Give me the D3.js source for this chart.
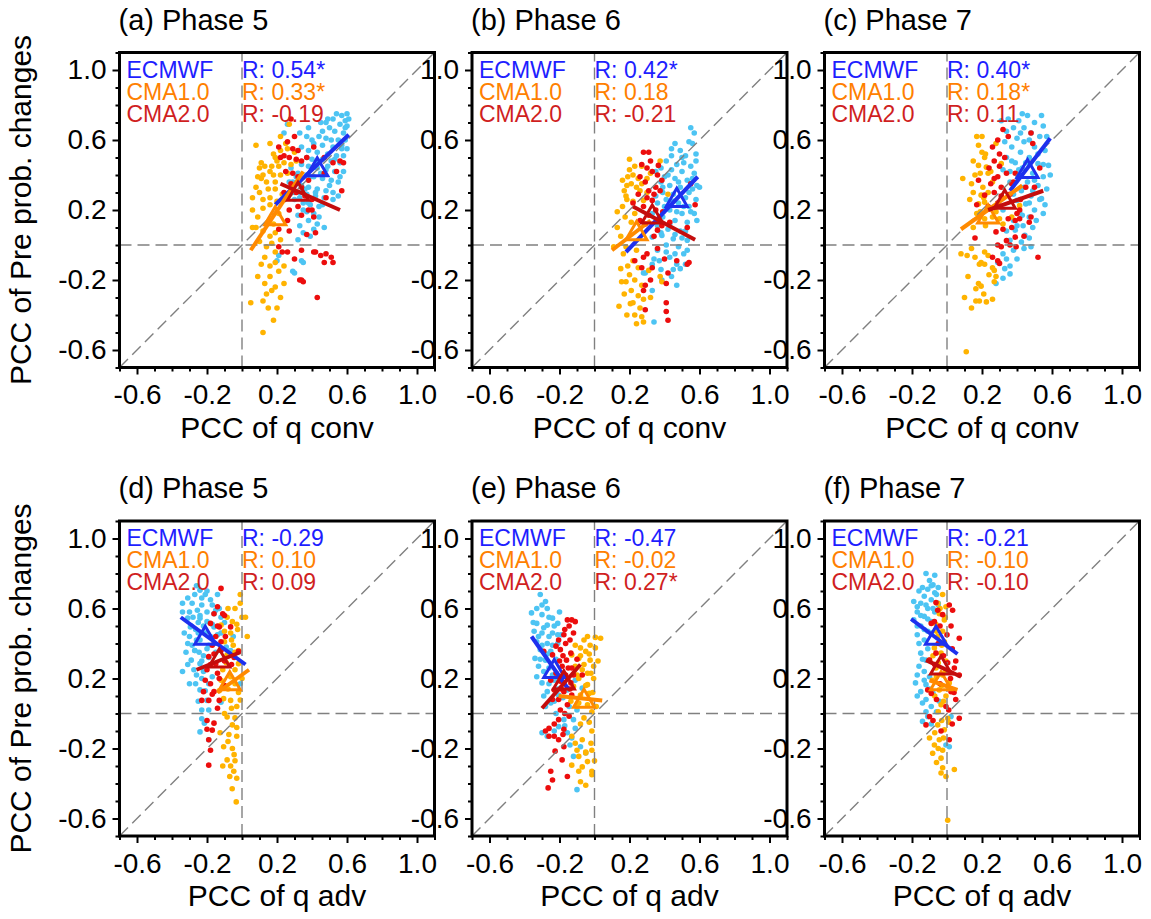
<!DOCTYPE html>
<html>
<head>
<meta charset="utf-8">
<script src="https://cdn.jsdelivr.net/npm/d3@7"></script>
<style>
  body { margin: 0; background: #fff; }
  svg { display: block; }
  text { font-family: "Liberation Sans", Arial, Helvetica, sans-serif; }
</style>
</head>
<body>
<svg id="chart" width="1151" height="919"></svg>
<script>
// ---- labels ----
const panelLetters = ["a", "b", "c", "d", "e", "f"];
const phaseNames = ["Phase 5", "Phase 6", "Phase 7", "Phase 5", "Phase 6", "Phase 7"];
const modelNames = ["ECMWF", "CMA1.0", "CMA2.0"];
const rLabels = [
    ["0.54*", "0.33*", "-0.19"],
    ["0.42*", "0.18", "-0.21"],
    ["0.40*", "0.18*", "0.11"],
    ["-0.29", "0.10", "0.09"],
    ["-0.47", "-0.02", "0.27*"],
    ["-0.21", "-0.10", "-0.10"]
];
const xTitles = ["PCC of q conv", "PCC of q conv", "PCC of q conv", "PCC of q adv", "PCC of q adv", "PCC of q adv"];
const yTitle = "PCC of Pre prob. changes";
const majorTicks = [-0.6, -0.2, 0.2, 0.6, 1.0];
const minorTicks = [-0.7, -0.5, -0.4, -0.3, -0.1, 0.0, 0.1, 0.3, 0.4, 0.5, 0.7, 0.8, 0.9, 1.1];

// ---- scatter points [x, y] ----
const ecmwfA = [[0.54,0.75],[0.57,0.74],[0.60,0.75],[0.52,0.72],[0.48,0.70],[0.59,0.71],[0.56,0.69],[0.50,0.67],[0.60,0.68],[0.46,0.65],[0.53,0.65],[0.58,0.64],[0.44,0.62],[0.48,0.61],[0.55,0.60],[0.59,0.60],[0.41,0.58],[0.46,0.57],[0.52,0.56],[0.57,0.55],[0.38,0.54],[0.43,0.53],[0.49,0.52],[0.54,0.51],[0.58,0.51],[0.37,0.50],[0.40,0.49],[0.46,0.49],[0.51,0.48],[0.56,0.47],[0.34,0.46],[0.38,0.45],[0.43,0.44],[0.48,0.43],[0.53,0.42],[0.58,0.42],[0.32,0.41],[0.37,0.40],[0.41,0.39],[0.46,0.38],[0.51,0.37],[0.55,0.36],[0.29,0.36],[0.34,0.34],[0.38,0.33],[0.43,0.32],[0.48,0.31],[0.33,0.30],[0.37,0.29],[0.42,0.28],[0.47,0.27],[0.52,0.26],[0.30,0.26],[0.35,0.24],[0.39,0.23],[0.44,0.22],[0.37,0.19],[0.41,0.18],[0.32,0.17],[0.38,0.14],[0.43,0.12],[0.33,0.11],[0.47,0.10],[0.41,0.09],[0.35,0.07],[0.32,0.03],[0.39,0.05],[0.21,-0.06],[0.20,-0.09],[0.35,-0.10],[0.30,-0.16],[0.26,0.69],[0.24,0.64],[0.33,0.64],[0.37,0.62],[0.28,0.44],[0.40,0.60],[0.45,0.70],[0.51,0.60],[0.57,0.57],[0.43,0.47],[0.49,0.45],[0.53,0.49],[0.39,0.39],[0.45,0.41],[0.50,0.34],[0.36,0.32],[0.42,0.30],[0.46,0.23],[0.33,0.27],[0.30,0.30],[0.38,0.24],[0.35,0.20],[0.44,0.16],[0.31,0.39],[0.27,0.36],[0.59,0.67],[0.61,0.72],[0.56,0.39],[0.60,0.55],[0.49,0.72],[0.38,0.67],[0.34,0.56],[0.52,0.30],[0.55,0.28],[0.29,-0.15],[0.34,-0.09]];
const cma1A = [[0.08,0.57],[0.10,0.44],[0.11,0.47],[0.12,0.40],[0.09,0.39],[0.16,0.42],[0.18,0.52],[0.19,0.50],[0.22,0.54],[0.26,0.55],[0.30,0.53],[0.27,0.69],[0.21,0.45],[0.19,0.36],[0.15,0.32],[0.10,0.30],[0.06,0.27],[0.06,0.20],[0.12,0.26],[0.16,0.23],[0.08,0.10],[0.06,0.10],[0.12,0.08],[0.16,0.05],[0.19,0.07],[0.14,-0.01],[0.13,-0.07],[0.16,-0.12],[0.19,-0.10],[0.24,-0.12],[0.09,-0.18],[0.16,-0.18],[0.19,-0.24],[0.22,-0.30],[0.14,-0.28],[0.12,-0.32],[0.15,-0.36],[0.05,-0.33],[0.18,-0.43],[0.12,-0.50],[0.20,0.48],[0.24,0.47],[0.17,0.45],[0.22,0.40],[0.26,0.41],[0.14,0.36],[0.19,0.32],[0.23,0.29],[0.13,0.45],[0.28,0.46],[0.18,0.40],[0.11,0.38],[0.08,0.33],[0.20,0.25],[0.16,0.27],[0.12,0.21],[0.09,0.16],[0.21,0.18],[0.18,0.12],[0.14,0.12],[0.17,0.01],[0.10,0.02],[0.22,0.03],[0.19,-0.04],[0.11,-0.11],[0.21,-0.15],[0.24,-0.22],[0.17,-0.26],[0.13,-0.22],[0.20,-0.36],[0.25,0.58],[0.31,0.48],[0.22,0.62],[0.16,0.58]];
const cma2A = [[0.30,0.62],[0.26,0.59],[0.21,0.56],[0.29,0.55],[0.32,0.54],[0.24,0.51],[0.27,0.50],[0.31,0.49],[0.34,0.48],[0.37,0.50],[0.41,0.56],[0.47,0.50],[0.52,0.47],[0.56,0.48],[0.58,0.47],[0.25,0.42],[0.29,0.41],[0.32,0.39],[0.38,0.37],[0.28,0.35],[0.34,0.33],[0.24,0.30],[0.31,0.30],[0.36,0.28],[0.40,0.26],[0.32,0.22],[0.27,0.20],[0.38,0.20],[0.34,0.17],[0.41,0.16],[0.26,0.14],[0.21,0.09],[0.27,0.08],[0.37,0.06],[0.42,0.07],[0.21,-0.01],[0.23,-0.04],[0.26,-0.04],[0.34,-0.03],[0.30,-0.08],[0.42,-0.04],[0.45,-0.06],[0.48,-0.05],[0.52,-0.10],[0.47,-0.10],[0.33,-0.20],[0.35,-0.21],[0.43,-0.30],[0.22,0.50],[0.54,0.42],[0.57,0.31],[0.48,0.27],[0.40,0.20],[0.28,0.72],[0.47,0.41],[0.51,-0.07],[0.41,-0.04],[0.34,-0.20]];

const ecmwfB = [[0.55,0.67],[0.57,0.64],[0.54,0.59],[0.46,0.58],[0.49,0.54],[0.44,0.51],[0.52,0.51],[0.58,0.48],[0.41,0.48],[0.47,0.46],[0.55,0.45],[0.38,0.44],[0.44,0.43],[0.50,0.42],[0.57,0.41],[0.40,0.39],[0.46,0.38],[0.53,0.37],[0.38,0.36],[0.43,0.34],[0.49,0.33],[0.56,0.32],[0.39,0.30],[0.45,0.29],[0.52,0.27],[0.58,0.26],[0.41,0.26],[0.48,0.24],[0.54,0.22],[0.43,0.20],[0.50,0.18],[0.57,0.18],[0.39,0.16],[0.46,0.14],[0.53,0.13],[0.36,0.11],[0.42,0.09],[0.49,0.08],[0.385,0.055],[0.45,0.036],[0.53,0.027],[0.33,0.046],[0.41,0.00],[0.48,-0.01],[0.36,-0.03],[0.51,-0.05],[0.43,-0.07],[0.47,-0.11],[0.33,-0.11],[0.38,-0.14],[0.49,-0.135],[0.29,-0.16],[0.44,-0.18],[0.385,-0.20],[0.47,-0.23],[0.33,-0.26],[0.34,-0.44],[0.36,0.24],[0.35,0.42],[0.585,0.34],[0.585,0.14],[0.56,0.58],[0.44,0.55],[0.51,0.47],[0.42,0.40],[0.48,0.36],[0.54,0.30],[0.45,0.25],[0.51,0.22],[0.40,0.22],[0.47,0.19],[0.55,0.19],[0.43,0.12],[0.52,0.08],[0.38,0.07],[0.46,0.06],[0.50,0.04],[0.41,-0.04],[0.53,-0.03],[0.37,-0.09],[0.45,-0.14],[0.50,0.50],[0.56,0.38],[0.39,0.33],[0.35,0.28],[0.33,0.18],[0.58,0.52],[0.60,0.33],[0.34,-0.08],[0.46,-0.05],[0.52,-0.11],[0.28,-0.16]];
const cma1B = [[0.20,0.49],[0.16,0.37],[0.20,0.43],[0.17,0.31],[0.21,0.35],[0.25,0.38],[0.30,0.38],[0.32,0.41],[0.375,0.48],[0.185,0.26],[0.16,0.22],[0.22,0.25],[0.13,0.10],[0.175,0.16],[0.23,0.18],[0.28,0.255],[0.26,0.31],[0.42,0.29],[0.11,-0.01],[0.165,-0.05],[0.19,-0.12],[0.15,-0.135],[0.22,-0.09],[0.25,-0.13],[0.31,-0.145],[0.155,-0.21],[0.18,-0.21],[0.23,-0.20],[0.27,-0.23],[0.21,-0.26],[0.25,-0.29],[0.22,-0.33],[0.14,-0.35],[0.205,-0.335],[0.185,-0.40],[0.23,-0.40],[0.27,-0.41],[0.24,-0.45],[0.28,-0.44],[0.375,-0.18],[0.385,-0.21],[0.32,-0.30],[0.27,0.45],[0.19,0.39],[0.24,0.33],[0.185,0.34],[0.22,0.40],[0.18,0.28],[0.27,0.35],[0.21,0.13],[0.15,0.05],[0.18,-0.01],[0.24,-0.03],[0.20,-0.17],[0.28,-0.31],[0.17,-0.28],[0.26,-0.36],[0.13,0.19],[0.30,0.30],[0.23,0.45]];
const cma2B = [[0.28,0.53],[0.31,0.53],[0.27,0.46],[0.32,0.48],[0.30,0.44],[0.33,0.42],[0.36,0.40],[0.29,0.36],[0.35,0.33],[0.375,0.31],[0.385,0.37],[0.25,0.29],[0.30,0.27],[0.33,0.255],[0.28,0.22],[0.35,0.20],[0.39,0.19],[0.22,0.24],[0.31,0.17],[0.385,0.11],[0.36,0.085],[0.55,0.35],[0.575,0.23],[0.53,0.10],[0.28,-0.07],[0.30,-0.05],[0.23,-0.09],[0.33,-0.13],[0.40,-0.08],[0.42,-0.16],[0.47,-0.09],[0.53,-0.11],[0.54,-0.10],[0.28,-0.26],[0.41,-0.22],[0.29,-0.23],[0.41,-0.33],[0.41,-0.38],[0.42,-0.43],[0.29,-0.37],[0.365,0.455],[0.26,0.39],[0.31,0.31],[0.34,0.29],[0.29,0.12],[0.26,0.14],[0.34,0.05],[0.43,0.13],[0.36,-0.02],[0.27,-0.13],[0.32,-0.20]];

const ecmwfC = [[0.43,0.75],[0.46,0.74],[0.54,0.74],[0.41,0.71],[0.50,0.70],[0.55,0.68],[0.38,0.67],[0.44,0.67],[0.34,0.65],[0.48,0.64],[0.53,0.62],[0.40,0.61],[0.44,0.59],[0.37,0.56],[0.50,0.56],[0.56,0.54],[0.42,0.53],[0.34,0.50],[0.47,0.50],[0.39,0.47],[0.52,0.465],[0.58,0.455],[0.43,0.44],[0.36,0.42],[0.49,0.41],[0.55,0.39],[0.405,0.38],[0.46,0.36],[0.52,0.34],[0.57,0.32],[0.425,0.31],[0.48,0.28],[0.54,0.265],[0.40,0.255],[0.45,0.235],[0.56,0.23],[0.50,0.20],[0.415,0.19],[0.47,0.16],[0.38,0.14],[0.435,0.11],[0.49,0.10],[0.39,0.085],[0.445,0.055],[0.36,0.027],[0.425,0.017],[0.48,-0.01],[0.38,-0.03],[0.44,-0.02],[0.32,-0.05],[0.34,-0.08],[0.40,-0.08],[0.33,-0.135],[0.32,-0.19],[0.36,-0.165],[0.29,-0.10],[0.35,0.72],[0.33,0.59],[0.32,0.43],[0.47,0.60],[0.42,0.64],[0.52,0.52],[0.45,0.47],[0.37,0.48],[0.55,0.46],[0.41,0.43],[0.50,0.37],[0.44,0.33],[0.38,0.29],[0.53,0.26],[0.47,0.24],[0.43,0.17],[0.51,0.14],[0.40,0.11],[0.34,0.08],[0.47,0.04],[0.31,0.71],[0.57,0.62],[0.36,0.36],[0.59,0.40],[0.49,0.31],[0.55,0.18],[0.32,0.20],[0.36,-0.12],[0.28,-0.22]];
const cma1C = [[0.17,0.62],[0.20,0.62],[0.15,0.48],[0.20,0.53],[0.215,0.50],[0.18,0.455],[0.225,0.445],[0.28,0.58],[0.31,0.465],[0.09,0.38],[0.19,0.41],[0.235,0.41],[0.14,0.35],[0.205,0.33],[0.26,0.36],[0.15,0.30],[0.195,0.285],[0.235,0.30],[0.18,0.235],[0.215,0.245],[0.17,0.18],[0.215,0.15],[0.26,0.16],[0.30,0.15],[0.37,0.16],[0.415,0.225],[0.08,-0.05],[0.115,-0.06],[0.16,-0.07],[0.215,-0.04],[0.195,-0.10],[0.235,-0.06],[0.185,-0.11],[0.215,-0.11],[0.26,-0.13],[0.27,-0.145],[0.28,-0.18],[0.12,-0.18],[0.18,-0.22],[0.165,-0.25],[0.195,-0.235],[0.27,-0.21],[0.10,-0.30],[0.165,-0.32],[0.185,-0.32],[0.225,-0.325],[0.26,-0.31],[0.14,-0.36],[0.11,-0.61],[0.18,0.57],[0.22,0.52],[0.25,0.42],[0.16,0.40],[0.21,0.27],[0.13,0.26],[0.19,0.19],[0.24,0.21],[0.28,0.19],[0.15,0.10],[0.22,0.11],[0.32,0.12],[0.14,-0.02],[0.24,-0.17],[0.21,-0.28]];
const cma2C = [[0.32,0.66],[0.35,0.62],[0.48,0.64],[0.29,0.60],[0.26,0.56],[0.30,0.52],[0.27,0.48],[0.24,0.44],[0.34,0.41],[0.39,0.41],[0.29,0.39],[0.18,0.37],[0.25,0.35],[0.31,0.33],[0.37,0.35],[0.27,0.30],[0.215,0.285],[0.17,0.23],[0.235,0.22],[0.415,0.20],[0.35,0.15],[0.39,0.14],[0.415,0.15],[0.47,0.13],[0.48,0.16],[0.49,0.58],[0.50,0.33],[0.53,0.44],[0.16,0.04],[0.28,0.075],[0.39,0.045],[0.29,0.00],[0.31,-0.01],[0.36,0.00],[0.395,-0.01],[0.26,-0.07],[0.29,-0.09],[0.30,-0.105],[0.52,-0.07],[0.34,0.025],[0.38,0.36],[0.31,0.28],[0.30,0.45],[0.33,0.50],[0.27,0.38],[0.36,0.29],[0.29,0.24],[0.42,0.26],[0.45,0.33],[0.40,0.18],[0.32,0.09],[0.37,0.10],[0.44,0.05]];

const ecmwfD = [[-0.26,0.73],[-0.24,0.705],[-0.27,0.68],[-0.21,0.68],[-0.14,0.68],[-0.31,0.66],[-0.18,0.65],[-0.285,0.63],[-0.23,0.62],[-0.34,0.58],[-0.255,0.59],[-0.20,0.58],[-0.15,0.59],[-0.31,0.545],[-0.24,0.545],[-0.295,0.495],[-0.33,0.46],[-0.265,0.48],[-0.16,0.495],[-0.30,0.44],[-0.24,0.42],[-0.285,0.39],[-0.32,0.35],[-0.245,0.35],[-0.20,0.37],[-0.29,0.305],[-0.24,0.285],[-0.275,0.25],[-0.34,0.24],[-0.21,0.26],[-0.23,0.20],[-0.265,0.17],[-0.19,0.17],[-0.24,0.135],[-0.20,0.075],[-0.12,0.065],[-0.23,0.02],[-0.215,-0.055],[-0.24,-0.105],[-0.19,-0.15],[-0.05,0.44],[-0.01,0.17],[-0.34,0.63],[-0.20,0.525],[-0.12,0.46],[-0.065,0.36],[-0.28,0.55],[-0.22,0.50],[-0.26,0.42],[-0.18,0.44],[-0.30,0.58],[-0.17,0.62],[-0.23,0.66],[-0.19,0.39],[-0.27,0.36],[-0.31,0.40],[-0.22,0.33],[-0.16,0.40],[-0.25,0.46],[-0.20,0.70],[-0.12,0.55],[-0.14,0.45],[-0.29,0.50],[-0.25,0.52],[-0.21,0.46],[-0.17,0.51],[-0.13,0.60],[-0.27,0.36],[-0.23,0.30],[-0.19,0.32],[-0.15,0.35],[-0.31,0.28],[-0.22,0.24],[-0.26,0.22],[-0.30,0.17],[-0.21,0.13],[-0.17,0.21],[-0.25,0.07],[-0.19,0.02],[-0.23,-0.03],[-0.16,0.57],[-0.24,0.56],[-0.10,0.52],[-0.09,0.38]];
const cma1D = [[-0.01,0.68],[-0.01,0.63],[-0.04,0.60],[-0.085,0.55],[-0.055,0.525],[0.00,0.55],[0.02,0.55],[-0.12,0.505],[-0.065,0.46],[-0.025,0.48],[0.03,0.44],[-0.10,0.41],[-0.05,0.39],[-0.085,0.335],[-0.04,0.35],[-0.02,0.285],[-0.11,0.25],[-0.065,0.21],[-0.04,0.17],[-0.13,0.13],[-0.105,0.085],[-0.065,0.075],[-0.03,0.04],[-0.085,-0.02],[-0.04,-0.025],[-0.055,-0.065],[-0.125,-0.11],[-0.075,-0.12],[-0.03,-0.13],[-0.105,-0.19],[-0.055,-0.20],[-0.045,-0.235],[-0.085,-0.265],[-0.11,-0.30],[-0.065,-0.30],[-0.047,-0.33],[-0.03,-0.37],[-0.056,-0.43],[-0.033,-0.505],[-0.01,0.077],[-0.08,0.60],[-0.03,0.51],[-0.10,0.47],[-0.06,0.42],[-0.02,0.36],[-0.09,0.29],[-0.04,0.25],[-0.12,0.19],[-0.08,0.14],[-0.02,0.12],[-0.06,0.03],[-0.10,0.00],[-0.03,-0.08],[-0.08,-0.16],[-0.04,-0.27],[-0.07,-0.36],[0.00,0.20]];
const cma2D = [[-0.12,0.715],[-0.14,0.61],[-0.16,0.57],[-0.11,0.57],[-0.18,0.515],[-0.13,0.495],[-0.15,0.44],[-0.095,0.44],[-0.17,0.39],[-0.12,0.36],[-0.19,0.325],[-0.15,0.285],[-0.045,0.32],[-0.02,0.355],[-0.20,0.25],[-0.14,0.23],[-0.18,0.17],[-0.22,0.125],[-0.16,0.125],[-0.19,0.075],[-0.13,0.075],[-0.23,0.075],[-0.20,-0.04],[-0.16,-0.055],[-0.17,-0.095],[-0.19,-0.15],[-0.18,-0.21],[-0.19,-0.295],[-0.065,0.495],[-0.10,0.56],[-0.14,0.50],[-0.12,0.41],[-0.16,0.34],[-0.10,0.30],[-0.18,0.28],[-0.13,0.20],[-0.17,0.11],[-0.10,0.16],[-0.14,0.03],[-0.21,0.19],[-0.06,0.28],[-0.20,-0.09]];

const ecmwfE = [[-0.31,0.68],[-0.28,0.64],[-0.33,0.60],[-0.27,0.60],[-0.36,0.575],[-0.30,0.565],[-0.24,0.545],[-0.33,0.515],[-0.27,0.505],[-0.21,0.515],[-0.345,0.47],[-0.30,0.46],[-0.24,0.46],[-0.19,0.45],[-0.33,0.41],[-0.27,0.40],[-0.21,0.40],[-0.31,0.365],[-0.25,0.355],[-0.34,0.315],[-0.28,0.305],[-0.32,0.27],[-0.26,0.26],[-0.33,0.21],[-0.30,0.175],[-0.23,0.19],[-0.27,0.125],[-0.205,0.105],[-0.25,0.06],[-0.28,0.04],[-0.145,0.04],[-0.10,0.02],[-0.22,0.00],[-0.175,-0.035],[-0.12,-0.035],[-0.30,-0.11],[-0.205,-0.075],[-0.155,-0.11],[-0.27,-0.13],[-0.11,-0.085],[-0.14,-0.18],[-0.08,-0.19],[-0.05,-0.225],[-0.12,-0.245],[-0.10,-0.435],[-0.07,0.145],[-0.155,0.135],[-0.11,0.19],[-0.30,0.62],[-0.26,0.55],[-0.29,0.49],[-0.23,0.50],[-0.32,0.44],[-0.26,0.44],[-0.21,0.45],[-0.30,0.39],[-0.24,0.39],[-0.27,0.34],[-0.31,0.31],[-0.22,0.31],[-0.29,0.24],[-0.24,0.22],[-0.26,0.17],[-0.21,0.14],[-0.29,0.10],[-0.23,0.07],[-0.18,0.09],[-0.17,-0.07],[-0.23,-0.10],[-0.13,-0.14],[-0.35,0.52],[-0.20,0.58]];
const cma1E = [[0.005,0.435],[0.035,0.43],[-0.06,0.42],[-0.11,0.39],[-0.025,0.39],[-0.08,0.375],[-0.05,0.355],[0.005,0.375],[-0.13,0.335],[-0.09,0.315],[-0.025,0.305],[-0.06,0.28],[-0.11,0.27],[-0.005,0.27],[-0.04,0.23],[-0.005,0.20],[-0.09,0.20],[-0.12,0.155],[-0.04,0.165],[-0.08,0.105],[-0.03,0.115],[-0.135,0.07],[-0.10,0.04],[-0.015,0.01],[-0.06,-0.025],[-0.015,-0.10],[-0.13,-0.13],[-0.07,-0.15],[-0.02,-0.17],[-0.10,-0.21],[-0.05,-0.225],[-0.015,-0.21],[-0.09,-0.245],[-0.04,-0.275],[-0.13,-0.295],[-0.07,-0.305],[-0.015,-0.33],[-0.08,-0.39],[-0.05,-0.41],[-0.015,-0.35],[-0.04,0.44],[-0.08,0.33],[-0.03,0.34],[-0.07,0.25],[-0.02,0.23],[-0.10,0.22],[-0.05,0.16],[-0.01,0.12],[-0.09,0.06],[-0.04,0.05],[0.01,0.04],[-0.08,-0.06],[-0.03,-0.05],[-0.11,-0.17],[-0.05,-0.22],[-0.09,-0.33],[0.00,-0.27],[0.02,0.30]];
const cma2E = [[-0.155,0.535],[-0.13,0.535],[-0.11,0.525],[-0.145,0.50],[-0.12,0.46],[-0.175,0.45],[-0.205,0.42],[-0.165,0.40],[-0.22,0.385],[-0.195,0.365],[-0.135,0.345],[-0.29,0.355],[-0.24,0.335],[-0.16,0.305],[-0.185,0.27],[-0.13,0.26],[-0.22,0.23],[-0.165,0.22],[-0.25,0.19],[-0.195,0.185],[-0.135,0.175],[-0.23,0.135],[-0.175,0.125],[-0.13,0.105],[-0.205,0.08],[-0.155,0.05],[-0.195,0.02],[-0.145,-0.015],[-0.26,-0.085],[-0.28,-0.10],[-0.205,-0.035],[-0.26,-0.13],[-0.23,-0.13],[-0.205,-0.15],[-0.175,-0.09],[-0.175,-0.19],[-0.225,-0.215],[-0.185,-0.265],[-0.25,-0.33],[-0.24,-0.38],[-0.265,-0.425],[-0.155,-0.36],[-0.07,0.22],[-0.17,0.48],[-0.14,0.42],[-0.18,0.33],[-0.15,0.26],[-0.20,0.30],[-0.12,0.22],[-0.19,0.14],[-0.14,0.14],[-0.24,0.08],[-0.17,0.00],[-0.23,-0.06],[-0.18,-0.12],[-0.10,0.31]];

const ecmwfF = [[-0.12,0.80],[-0.07,0.79],[-0.10,0.76],[-0.08,0.735],[-0.05,0.72],[-0.11,0.71],[-0.16,0.70],[-0.07,0.69],[-0.13,0.67],[-0.09,0.65],[-0.19,0.64],[-0.15,0.63],[-0.05,0.63],[-0.11,0.60],[-0.17,0.58],[-0.07,0.58],[-0.13,0.555],[-0.19,0.535],[-0.09,0.525],[-0.15,0.50],[-0.11,0.47],[-0.17,0.45],[-0.13,0.42],[-0.15,0.345],[-0.12,0.305],[-0.16,0.27],[-0.13,0.24],[-0.10,0.21],[-0.18,0.175],[-0.12,0.165],[-0.15,0.125],[-0.08,0.115],[-0.12,0.08],[-0.09,0.04],[-0.06,0.01],[-0.14,-0.045],[-0.11,-0.017],[-0.044,0.07],[0.023,-0.017],[-0.006,-0.18],[0.013,-0.19],[-0.09,0.73],[-0.14,0.72],[-0.12,0.62],[-0.17,0.61],[-0.08,0.60],[-0.15,0.56],[-0.11,0.54],[-0.17,0.50],[-0.13,0.48],[-0.09,0.46],[-0.16,0.40],[-0.11,0.37],[-0.14,0.31],[-0.17,0.22],[-0.13,0.19],[-0.10,0.14],[-0.14,0.06],[-0.17,0.10],[-0.12,0.01],[-0.09,-0.06],[-0.06,0.68],[-0.05,0.62]];
const cma1F = [[-0.025,0.68],[-0.053,0.63],[-0.006,0.61],[-0.044,0.57],[-0.015,0.535],[-0.063,0.51],[-0.025,0.47],[-0.053,0.44],[-0.015,0.41],[-0.072,0.375],[-0.034,0.345],[-0.10,0.305],[-0.006,0.30],[-0.063,0.26],[-0.025,0.22],[-0.082,0.19],[0.013,0.175],[-0.044,0.135],[-0.006,0.10],[-0.034,0.05],[0.004,-0.027],[-0.053,-0.065],[-0.015,-0.093],[-0.10,-0.14],[-0.044,-0.15],[-0.072,-0.18],[-0.025,-0.21],[-0.082,-0.227],[-0.034,-0.255],[-0.025,-0.31],[0.042,-0.32],[-0.034,-0.34],[-0.006,-0.36],[0.004,-0.61],[-0.04,0.60],[-0.01,0.55],[-0.06,0.47],[-0.03,0.39],[-0.08,0.33],[-0.05,0.29],[-0.01,0.24],[-0.06,0.21],[-0.03,0.16],[-0.07,0.10],[-0.02,0.07],[-0.05,0.01],[-0.03,-0.04],[-0.07,-0.11],[-0.02,-0.14],[-0.05,-0.20],[-0.06,-0.28],[0.01,-0.05]];
const cma2F = [[-0.063,0.634],[0.013,0.62],[-0.053,0.59],[0.032,0.59],[-0.025,0.565],[-0.072,0.525],[-0.09,0.515],[0.023,0.50],[0.07,0.43],[-0.063,0.345],[-0.10,0.305],[0.004,0.29],[0.042,0.26],[0.07,0.22],[-0.11,0.135],[-0.09,0.115],[0.023,0.125],[0.05,0.08],[-0.006,0.04],[-0.10,-0.017],[-0.12,-0.065],[0.07,-0.027],[-0.034,-0.10],[0.013,-0.15],[-0.04,0.50],[0.00,0.45],[-0.05,0.40],[0.03,0.37],[-0.02,0.33],[0.05,0.30],[-0.07,0.28],[0.02,0.20],[-0.04,0.17],[0.04,0.12],[-0.06,0.08],[0.01,0.02],[0.03,-0.06],[-0.08,-0.04]];

// ---- regression segments [x0, y0, x1, y1] and means [x, y], one per panel ----
const fitECMWF = [[0.19,0.23,0.61,0.63],[0.18,-0.04,0.59,0.39],[0.36,0.31,0.59,0.61],[-0.35,0.55,0.02,0.28],[-0.36,0.44,-0.15,0.14],[-0.205,0.54,0.06,0.34]];
const fitCMA1 = [[0.05,-0.03,0.35,0.42],[0.10,-0.03,0.32,0.14],[0.08,0.09,0.43,0.34],[-0.14,0.12,0.04,0.25],[-0.205,0.10,0.044,0.074],[-0.10,0.19,0.06,0.135]];
const fitCMA2 = [[0.22,0.35,0.56,0.20],[0.22,0.22,0.575,0.03],[0.235,0.20,0.55,0.31],[-0.26,0.25,-0.01,0.35],[-0.30,0.03,-0.08,0.28],[-0.12,0.305,0.08,0.21]];
const meanECMWF = [[0.43,0.43],[0.47,0.255],[0.46,0.42],[-0.21,0.43],[-0.23,0.24],[-0.063,0.43]];
const meanCMA1 = [[0.19,0.15],[0.24,0.065],[0.235,0.16],[-0.07,0.17],[-0.06,0.07],[-0.034,0.17]];
const meanCMA2 = [[0.32,0.29],[0.33,0.16],[0.33,0.245],[-0.13,0.30],[-0.175,0.175],[-0.034,0.26]];

const scatterSets = [
    [ecmwfA, cma1A, cma2A],
    [ecmwfB, cma1B, cma2B],
    [ecmwfC, cma1C, cma2C],
    [ecmwfD, cma1D, cma2D],
    [ecmwfE, cma1E, cma2E],
    [ecmwfF, cma1F, cma2F]
];
const fitSets = [fitECMWF, fitCMA1, fitCMA2];
const meanSets = [meanECMWF, meanCMA1, meanCMA2];

const COLORS = {
    dots: ['#4dc4f3', '#ffb300', '#ec0d0d'],
    lines: ['#1e30ee', '#ff8a00', '#c40d0d'],
    text: ['#1e1eff', '#ff8000', '#d01f1f'],
    ref: '#808080'
};

const SIZE = 315;
const panelLeft = [119.5, 472, 824.5];
const panelTop = [52.5, 521];

const x = d3.scaleLinear().domain([-0.7, 1.1]).range([0, SIZE]);
const y = d3.scaleLinear().domain([-0.7, 1.1]).range([SIZE, 0]);
const fmt = d => d.toFixed(1);
const triangle = "M0,-12.1 L10.5,6.1 L-10.5,6.1 Z";

const svg = d3.select("#chart");

panelLetters.forEach((letter, i) => {
    const col = i % 3, row = Math.floor(i / 3);
    const g = svg.append("g")
        .attr("transform", "translate(" + panelLeft[col] + "," + panelTop[row] + ")");

    g.append("clipPath").attr("id", "clip" + letter)
        .append("rect").attr("width", SIZE).attr("height", SIZE);

    const plot = g.append("g").attr("clip-path", "url(#clip" + letter + ")");

    // scatter dots
    scatterSets[i].forEach((pts, m) => {
        plot.append("g").selectAll("circle")
            .data(pts)
            .enter()
            .append("circle")
            .attr("cx", d => x(d[0]))
            .attr("cy", d => y(d[1]))
            .attr("r", 2.8)
            .style("fill", COLORS.dots[m]);
    });

    // dashed reference lines
    const refLines = [[0, -0.7, 0, 1.1], [-0.7, 0, 1.1, 0], [-0.7, -0.7, 1.1, 1.1]];
    plot.selectAll(".ref")
        .data(refLines)
        .enter()
        .append("line")
        .attr("class", "ref")
        .attr("x1", d => x(d[0])).attr("y1", d => y(d[1]))
        .attr("x2", d => x(d[2])).attr("y2", d => y(d[3]))
        .style("stroke", COLORS.ref)
        .style("stroke-width", 1.4)
        .style("stroke-dasharray", "12,6");

    // regression lines and mean triangles
    [0, 1, 2].forEach(m => {
        const s = fitSets[m][i];
        plot.append("line")
            .attr("x1", x(s[0])).attr("y1", y(s[1]))
            .attr("x2", x(s[2])).attr("y2", y(s[3]))
            .style("stroke", COLORS.lines[m])
            .style("stroke-width", 4);
        const c = meanSets[m][i];
        plot.append("path")
            .attr("d", triangle)
            .attr("transform", "translate(" + x(c[0]) + "," + y(c[1]) + ")")
            .style("fill", "none")
            .style("stroke", COLORS.lines[m])
            .style("stroke-width", 3);
    });

    // axes: minor then major ticks on left and bottom
    const xMinor = g.append("g").attr("transform", "translate(0," + SIZE + ")")
        .call(d3.axisBottom(x).tickValues(minorTicks).tickSize(4).tickFormat(""));
    const xMajor = g.append("g").attr("transform", "translate(0," + SIZE + ")")
        .call(d3.axisBottom(x).tickValues(majorTicks).tickSize(7).tickPadding(10).tickFormat(fmt));
    const yMinor = g.append("g")
        .call(d3.axisLeft(y).tickValues(minorTicks).tickSize(4).tickFormat(""));
    const yMajor = g.append("g")
        .call(d3.axisLeft(y).tickValues(majorTicks).tickSize(7).tickPadding(6).tickFormat(fmt));

    [xMinor, yMinor].forEach(a => a.selectAll(".tick text").remove());
    [xMinor, xMajor, yMinor, yMajor].forEach(a => {
        a.select(".domain").remove();
        a.selectAll(".tick line").style("stroke", "#000").style("stroke-width", 2);
        a.selectAll("text")
            .style("font-family", '"Liberation Sans", Arial, sans-serif')
            .style("font-size", "28px")
            .style("fill", "#000");
    });

    // frame
    g.append("rect")
        .attr("width", SIZE).attr("height", SIZE)
        .style("fill", "none").style("stroke", "#000").style("stroke-width", 3);

    // legend with correlation
    modelNames.forEach((name, m) => {
        g.append("text")
            .attr("x", 7).attr("y", 25 + m * 22)
            .style("font-size", "23px")
            .style("fill", COLORS.text[m])
            .text(name);
        g.append("text")
            .attr("x", x(0)).attr("y", 25 + m * 22)
            .style("font-size", "23px")
            .style("fill", COLORS.text[m])
            .text("R: " + rLabels[i][m]);
    });

    // panel title
    g.append("text")
        .attr("x", -1).attr("y", -23)
        .style("font-size", "29px")
        .text("(" + letter + ") " + phaseNames[i]);

    // x title
    g.append("text")
        .attr("x", SIZE / 2).attr("y", SIZE + 70)
        .attr("text-anchor", "middle")
        .style("font-size", "30px")
        .text(xTitles[i]);

    // y title (first column only)
    if (col === 0) {
        g.append("text")
            .attr("transform", "translate(" + (31 - panelLeft[0]) + "," + (SIZE / 2) + ") rotate(-90)")
            .attr("text-anchor", "middle")
            .style("font-size", "30px")
            .text(yTitle);
    }
});
</script>
</body>
</html>
